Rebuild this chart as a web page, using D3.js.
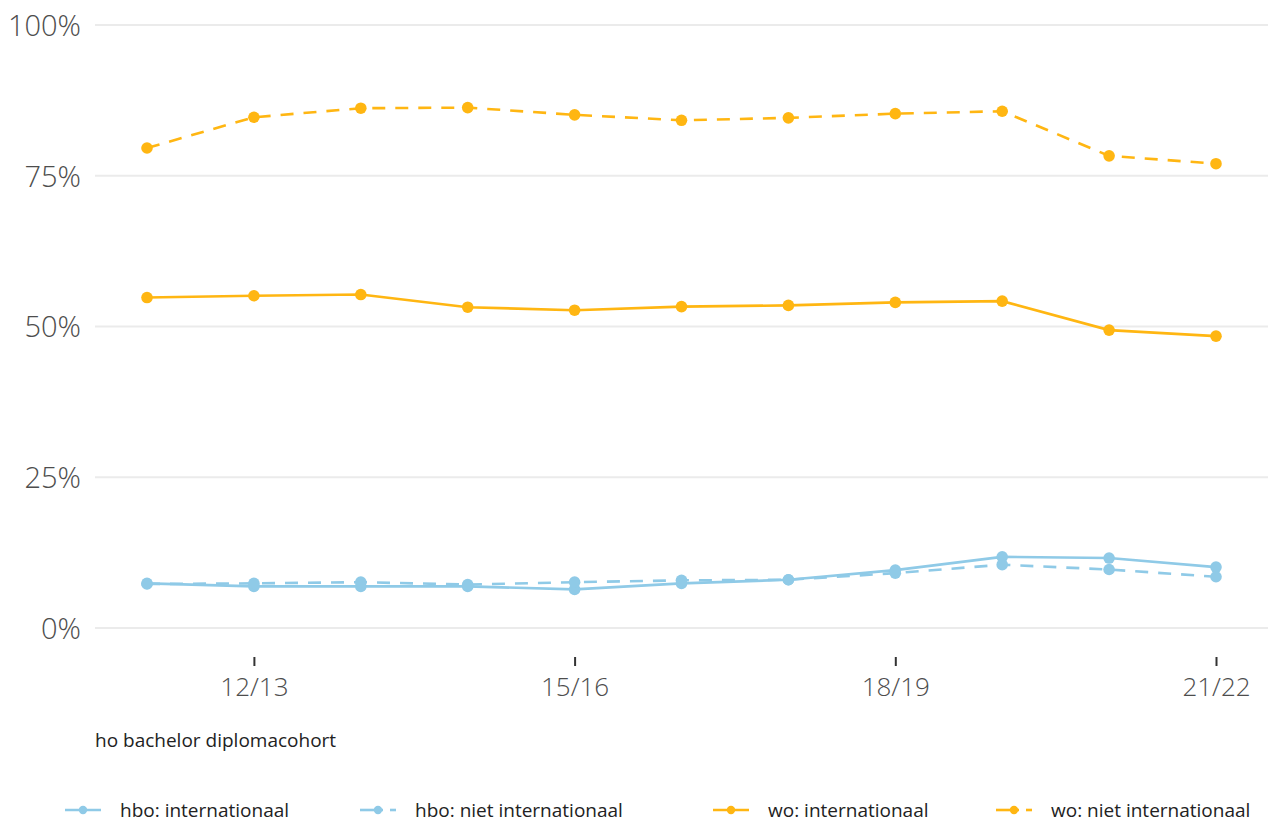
<!DOCTYPE html>
<html>
<head>
<meta charset="utf-8">
<script src="https://cdn.jsdelivr.net/npm/d3@7"></script>
<style>
  html, body { margin: 0; padding: 0; background: #fff; }
  svg { display: block; font-family: "Open Sans", sans-serif; }
</style>
</head>
<body>
<svg id="chart" width="1268" height="823"></svg>
<script>
const categories = ["11/12","12/13","13/14","14/15","15/16","16/17","17/18","18/19","19/20","20/21","21/22"];
const xTickLabels = ["12/13","15/16","18/19","21/22"];
const yTicks = [0, 25, 50, 75, 100];

const hboInternationaal     = [7.4, 6.9, 6.9, 6.9, 6.4, 7.4, 8.0, 9.6, 11.8, 11.6, 10.1];
const hboNietInternationaal = [7.3, 7.4, 7.6, 7.2, 7.6, 7.9, 8.0, 9.1, 10.5, 9.7, 8.5];
const woInternationaal      = [54.8, 55.1, 55.3, 53.2, 52.7, 53.3, 53.5, 54.0, 54.2, 49.4, 48.4];
const woNietInternationaal  = [79.6, 84.7, 86.2, 86.3, 85.1, 84.2, 84.6, 85.3, 85.7, 78.3, 77.0];

const seriesNames = ["hbo: internationaal","hbo: niet internationaal","wo: internationaal","wo: niet internationaal"];
const seriesValues = [hboInternationaal, hboNietInternationaal, woInternationaal, woNietInternationaal];
const seriesColors = ["#8fcae7","#8fcae7","#ffb612","#ffb612"];
const seriesDashed = [false, true, false, true];

const svg = d3.select("#chart");
const plotLeft = 95, plotRight = 1268;

const x = d3.scalePoint().domain(categories).range([147, 1216]);
const y = d3.scaleLinear().domain([0, 100]).range([628, 25]);

// gridlines
svg.append("g").selectAll("line").data(yTicks).join("line")
  .attr("x1", plotLeft).attr("x2", plotRight)
  .attr("y1", d => y(d)).attr("y2", d => y(d))
  .attr("stroke", "#ebebeb").attr("stroke-width", 2.2);

// y axis labels
const yAxis = d3.axisLeft(y).tickValues(yTicks).tickFormat(d => d + "%").tickSize(0).tickPadding(0);
const gy = svg.append("g").attr("transform", "translate(81,0)").call(yAxis);
gy.select(".domain").remove();
gy.selectAll("text").attr("font-size", 29).attr("fill", "#4d4d4d")
  .attr("font-family", "'Open Sans', sans-serif").attr("font-weight", 300).attr("dy", "0.36em");

// x axis
const xAxis = d3.axisBottom(x).tickValues(xTickLabels).tickSize(9).tickPadding(12);
const gx = svg.append("g").attr("transform", "translate(0,657)").call(xAxis);
gx.select(".domain").remove();
gx.selectAll("line").attr("stroke", "#333").attr("stroke-width", 2);
gx.selectAll("text").attr("font-size", 26).attr("fill", "#4d4d4d")
  .attr("font-family", "'Open Sans', sans-serif").attr("font-weight", 300);

// x axis title
svg.append("text").attr("x", 95).attr("y", 747)
  .attr("font-size", 19).attr("fill", "#222").attr("font-weight", 400)
  .text("ho bachelor diplomacohort");

// lines
const line = d3.line().x((d, i) => x(categories[i])).y(d => y(d));
seriesValues.forEach((vals, k) => {
  svg.append("path").datum(vals)
    .attr("d", line)
    .attr("fill", "none")
    .attr("stroke", seriesColors[k])
    .attr("stroke-width", 2.6)
    .attr("stroke-dasharray", seriesDashed[k] ? "13,10" : null);
  svg.append("g").selectAll("circle").data(vals).join("circle")
    .attr("cx", (d, i) => x(categories[i]))
    .attr("cy", d => y(d))
    .attr("r", 5.8)
    .attr("fill", seriesColors[k]);
});

// legend
const legendX = [65, 360, 713, 996];
const legendY = 810;
seriesNames.forEach((name, k) => {
  const g = svg.append("g").attr("transform", `translate(${legendX[k]},${legendY})`);
  if (seriesDashed[k]) {
    g.append("line").attr("x1", 0).attr("x2", 23).attr("y1", 0).attr("y2", 0)
      .attr("stroke", seriesColors[k]).attr("stroke-width", 2.6);
    g.append("line").attr("x1", 30).attr("x2", 36).attr("y1", 0).attr("y2", 0)
      .attr("stroke", seriesColors[k]).attr("stroke-width", 2.6);
  } else {
    g.append("line").attr("x1", 0).attr("x2", 36).attr("y1", 0).attr("y2", 0)
      .attr("stroke", seriesColors[k]).attr("stroke-width", 2.6);
  }
  g.append("circle").attr("cx", 18).attr("cy", 0).attr("r", 4.2).attr("fill", seriesColors[k]);
  g.append("text").attr("x", 55).attr("y", 0).attr("dy", "0.35em")
    .attr("font-size", 19).attr("fill", "#222")
    .text(name);
});
</script>
</body>
</html>
